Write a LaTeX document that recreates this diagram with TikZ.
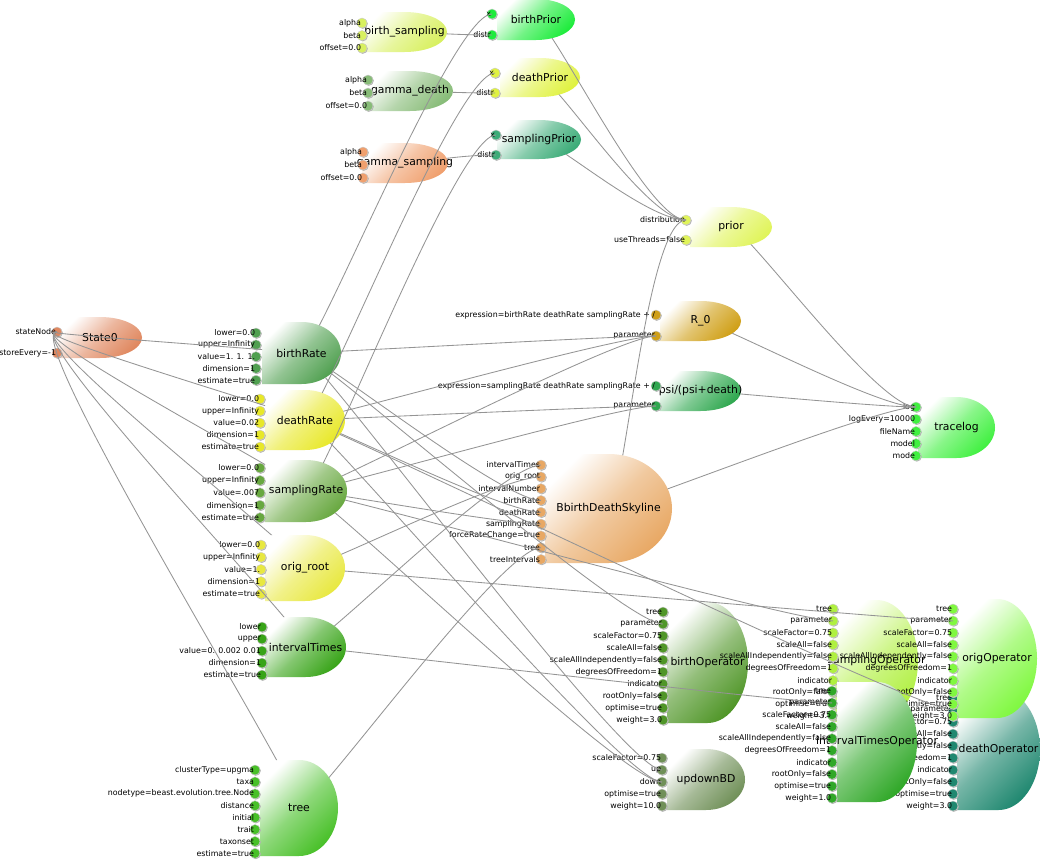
\documentclass[tikz,border=0pt]{standalone}
\usepackage{fontspec}
\setmainfont{DejaVu Sans}
\usetikzlibrary{positioning}

\definecolor{cBirthSamp}{RGB}{216,240,96}
\definecolor{cGammaDeath}{RGB}{136,188,120}
\definecolor{cGammaSamp}{RGB}{240,160,110}
\definecolor{cBirthPrior}{RGB}{30,236,60}
\definecolor{cDeathPrior}{RGB}{224,242,64}
\definecolor{cSampPrior}{RGB}{60,172,120}
\definecolor{cPrior}{RGB}{224,244,90}
\definecolor{cState}{RGB}{224,136,96}
\definecolor{cBirthRate}{RGB}{80,160,80}
\definecolor{cDeathRate}{RGB}{232,232,40}
\definecolor{cSampRate}{RGB}{104,168,64}
\definecolor{cOrigRoot}{RGB}{232,232,64}
\definecolor{cInterval}{RGB}{56,164,24}
\definecolor{cTree}{RGB}{72,192,40}
\definecolor{cRzero}{RGB}{208,160,24}
\definecolor{cPsi}{RGB}{48,168,80}
\definecolor{cSkyline}{RGB}{232,168,100}
\definecolor{cTracelog}{RGB}{64,240,64}
\definecolor{cBirthOp}{RGB}{80,150,40}
\definecolor{cUpdown}{RGB}{112,144,88}
\definecolor{cSampOp}{RGB}{176,240,64}
\definecolor{cDeathOp}{RGB}{32,136,112}
\definecolor{cOrigOp}{RGB}{128,248,64}
\definecolor{cIntervalOp}{RGB}{48,168,40}

% shaded model node: name, left, top, width, height, colour, text
\newcommand{\modelnode}[7]{%
  \expandafter\gdef\csname shp#1\endcsname{(#2,#3) -- ++({#4/2},0)
    arc[start angle=-90, end angle=90, x radius={#4/2}, y radius={#5/2}]
    -- (#2,{#3+#5}) -- cycle}%
  \expandafter\let\expandafter\curshape\csname shp#1\endcsname
  \shade[top color=white, bottom color=#6, middle color=#6!62, shading angle=45] \curshape;
  \node[nodename] (#1) at ({#2+#4/2},{#3+#5/2}) {#7};
}
% input ports: node, x, first y, step, colour, labels
\newcommand{\ports}[6]{%
  \foreach \lab [count=\i] in {#6} {
    \fill[black!30] ({#2+0.8},{#3+(\i-1)*#4+0.8}) circle (5);
    \node[port, fill=#5] (#1-\i) at (#2,{#3+(\i-1)*#4}) {};
    \node[portlabel] at (#1-\i.center) {\lab};
  }
}
% connectors out of one node, hidden under its own shape
\newcommand{\links}[2]{%
  \begin{scope}[even odd rule]
    \expandafter\let\expandafter\curshape\csname shp#1\endcsname
    \clip (-10,-10) -- (-10,880) -- (1060,880) -- (1060,-10) -- cycle \curshape;
    \foreach \tgt in {#2}
      \draw[link] (#1.center) .. controls +(15,0) and +(-40,0) .. (\tgt.center);
  \end{scope}
}

\begin{document}
\begin{tikzpicture}[
    x=0.025cm, y=-0.025cm,
    nodename/.style={inner sep=0, font=\fontsize{7.7}{9}\selectfont},
    port/.style={circle, inner sep=0, minimum size=0.25cm, draw=black!20, line width=0.3pt},
    portlabel/.style={anchor=east, inner sep=0, xshift=-0.5pt, font=\fontsize{5.6}{6.5}\selectfont},
    link/.style={draw=black!42, line width=0.6pt},
  ]
  \useasboundingbox (0,0) rectangle (1040,861);
  \fill[white] (0,0) rectangle (1040,861);

  % priors
  \modelnode{birthsampling}{362}{12}{85}{40}{cBirthSamp}{birth\_sampling}
  \ports{birthsampling}{362}{23}{12.5}{cBirthSamp}{alpha, beta, offset=0.0}
  \modelnode{gammadeath}{367}{71}{86}{40}{cGammaDeath}{gamma\_death}
  \ports{gammadeath}{368}{80}{13}{cGammaDeath}{alpha, beta, offset=0.0}
  \modelnode{gammasampling}{362}{143}{86}{40}{cGammaSamp}{gamma\_sampling}
  \ports{gammasampling}{363}{152}{13}{cGammaSamp}{alpha, beta, offset=0.0}

  \modelnode{birthPrior}{497}{-1}{78}{41}{cBirthPrior}{birthPrior}
  \ports{birthPrior}{492}{14}{21}{cBirthPrior}{x, distr}
  \modelnode{deathPrior}{500}{58}{80}{39}{cDeathPrior}{deathPrior}
  \ports{deathPrior}{495}{73}{20}{cDeathPrior}{x, distr}
  \modelnode{samplingPrior}{497}{120}{84}{39}{cSampPrior}{samplingPrior}
  \ports{samplingPrior}{496}{135}{20}{cSampPrior}{x, distr}
  \modelnode{prior}{690}{207}{82}{40}{cPrior}{prior}
  \ports{prior}{686}{220}{20}{cPrior}{distribution, useThreads=false}

  % state and parameters
  \modelnode{State}{58}{317}{84}{41}{cState}{State0}
  \ports{State}{57}{332}{21}{cState}{stateNode, storeEvery=-1}
  \modelnode{birthRate}{262}{322}{79}{62}{cBirthRate}{birthRate}
  \ports{birthRate}{256}{333}{11.8}{cBirthRate}{lower=0.0, upper=Infinity, value=1. 1. 1., dimension=1, estimate=true}
  \modelnode{deathRate}{265}{390}{80}{60}{cDeathRate}{deathRate}
  \ports{deathRate}{260}{399}{12}{cDeathRate}{lower=0.0, upper=Infinity, value=0.02, dimension=1, estimate=true}
  \modelnode{samplingRate}{265}{460}{82}{62}{cSampRate}{samplingRate}
  \ports{samplingRate}{260}{468}{12.4}{cSampRate}{lower=0.0, upper=Infinity, value=.007, dimension=1, estimate=true}
  \modelnode{origroot}{265}{535}{80}{66}{cOrigRoot}{orig\_root}
  \ports{origroot}{261}{545}{12.2}{cOrigRoot}{lower=0.0, upper=Infinity, value=1., dimension=1, estimate=true}
  \modelnode{intervalTimes}{265}{617}{81}{60}{cInterval}{intervalTimes}
  \ports{intervalTimes}{262}{627}{12}{cInterval}{lower, upper, value=0.  0.002 0.01, dimension=1, estimate=true}
  \modelnode{tree}{260}{760}{78}{96}{cTree}{tree}
  \ports{tree}{255}{770}{11.9}{cTree}{clusterType=upgma, taxa, nodetype=beast.evolution.tree.Node, distance, initial, trait, taxonset, estimate=true}

  % expressions, likelihood, logger
  \modelnode{Rzero}{660}{301}{81}{40}{cRzero}{R\_0}
  \ports{Rzero}{656}{315}{21}{cRzero}{expression=birthRate deathRate samplingRate + /, parameter}
  \modelnode{psi}{660}{371}{81}{40}{cPsi}{psi/(psi+death)}
  \ports{psi}{656}{386}{20}{cPsi}{expression=samplingRate deathRate samplingRate + /, parameter}
  \modelnode{skyline}{545}{454}{127}{109}{cSkyline}{BbirthDeathSkyline}
  \ports{skyline}{541}{465}{11.8}{cSkyline}{intervalTimes, orig\_root, intervalNumber, birthRate, deathRate, samplingRate, forceRateChange=true, tree, treeIntervals}
  \modelnode{tracelog}{918}{397}{77}{61}{cTracelog}{tracelog}
  \ports{tracelog}{916}{407}{12.2}{cTracelog}{log, logEvery=10000, fileName, model, mode}

  % operators
  \modelnode{birthOp}{667}{602}{81}{121}{cBirthOp}{birthOperator}
  \ports{birthOp}{663}{612}{12}{cBirthOp}{tree, parameter, scaleFactor=0.75, scaleAll=false, scaleAllIndependently=false, degreesOfFreedom=1, indicator, rootOnly=false, optimise=true, weight=3.0}
  \modelnode{updownBD}{667}{749}{78}{61}{cUpdown}{updownBD}
  \ports{updownBD}{662}{758}{12}{cUpdown}{scaleFactor=0.75, up, down, optimise=true, weight=10.0}
  \modelnode{samplingOp}{835}{600}{83}{122}{cSampOp}{samplingOperator}
  \ports{samplingOp}{833}{609}{11.9}{cSampOp}{tree, parameter, scaleFactor=0.75, scaleAll=false, scaleAllIndependently=false, degreesOfFreedom=1, indicator, rootOnly=false, optimise=true, weight=3.0}
  \modelnode{deathOp}{957}{689}{83}{121}{cDeathOp}{deathOperator}
  \ports{deathOp}{953}{698}{12}{cDeathOp}{tree, parameter, scaleFactor=0.75, scaleAll=false, scaleAllIndependently=false, degreesOfFreedom=1, indicator, rootOnly=false, optimise=true, weight=3.0}
  \modelnode{origOp}{957}{599}{80}{119}{cOrigOp}{origOperator}
  \ports{origOp}{953}{609}{11.9}{cOrigOp}{tree, parameter, scaleFactor=0.75, scaleAll=false, scaleAllIndependently=false, degreesOfFreedom=1, indicator, rootOnly=false, optimise=true, weight=3.0}
  \modelnode{intervalOp}{837}{682}{80}{120}{cIntervalOp}{intervalTimesOperator}
  \ports{intervalOp}{832}{691}{11.9}{cIntervalOp}{tree, parameter, scaleFactor=0.75, scaleAll=false, scaleAllIndependently=false, degreesOfFreedom=1, indicator, rootOnly=false, optimise=true, weight=1.0}

  % connectors
  \links{birthsampling}{birthPrior-2}
  \links{gammadeath}{deathPrior-2}
  \links{gammasampling}{samplingPrior-2}
  \links{birthPrior}{prior-1}
  \links{deathPrior}{prior-1}
  \links{samplingPrior}{prior-1}
  \links{birthRate}{State-1, birthPrior-1, Rzero-2, skyline-4, birthOp-2, updownBD-2}
  \links{deathRate}{State-1, deathPrior-1, Rzero-2, psi-2, skyline-5, deathOp-2, updownBD-3}
  \links{samplingRate}{State-1, samplingPrior-1, Rzero-2, psi-2, skyline-6, samplingOp-2, updownBD-3}
  \links{origroot}{State-1, skyline-2, origOp-2}
  \links{intervalTimes}{State-1, skyline-1, intervalOp-2}
  \links{tree}{State-1, skyline-8}
  \links{skyline}{prior-1, tracelog-1}
  \links{prior}{tracelog-1}
  \links{Rzero}{tracelog-1}
  \links{psi}{tracelog-1}
\end{tikzpicture}
\end{document}
